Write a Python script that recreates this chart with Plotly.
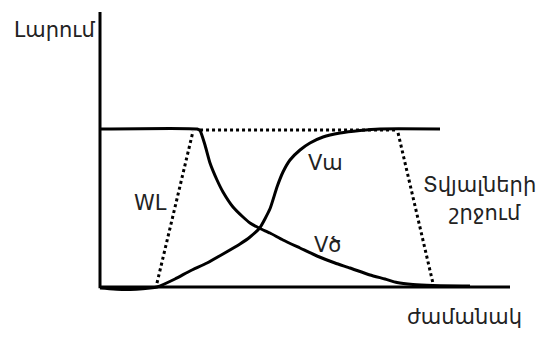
import plotly.graph_objects as go

# ---- data (time in % of axis, voltage in % of full level) ----
va_x = [0, 6.10, 12.20, 13.90, 18.29, 21.95, 26.10, 30.0, 34.15, 36.59, 39.02, 41.46, 43.17,
        44.63, 46.34, 48.78, 51.22, 54.39, 58.54, 63.41, 68.29, 82.93]
va_y = [-0.63, -1.58, -0.63, 0, 5.06, 10.13, 15.19, 20.89, 27.22, 31.65, 37.6, 49.5, 63.29,
        72.78, 80.38, 86.71, 91.14, 94.94, 97.47, 99.05, 100, 100]

vd_x = [0, 23.66, 24.39, 25.61, 26.83, 28.54, 30.0, 32.44, 34.88, 36.59, 39.02, 41.46, 44.63,
        48.78, 52.93, 57.32, 60.98, 65.85, 69.51, 72.44, 76.34, 81.22, 90.24]
vd_y = [100, 100, 99.05, 89.87, 78.48, 67.72, 60.13, 50.63, 44.30, 40.51, 37.03, 34.18, 29.75,
        24.68, 19.62, 15.19, 12.03, 7.59, 5.06, 2.85, 1.58, 0.95, 0.63]

top_dot_x = [24.4, 72.6]
top_dot_y = [99.4, 99.4]
wl_x = [13.9, 22.7]
wl_y = [2.5, 98.7]
inv_x = [72.7, 81.2]
inv_y = [97.5, 2.5]

axis_x_end = 100
axis_y_end = 174

labels = {
    "y_title": "Լարում",
    "x_title": "ժամանակ",
    "wl": "WL",
    "va": "Vա",
    "vd": "Vծ",
    "inv1": "Տվյալների",
    "inv2": "շրջում",
}

# ---- pixel mapping (page body adds an 8px offset) ----
W, H = 557, 338
OFF = 8
X0PX, XSCALE = 100 - OFF, 4.1
Y0PX, YSCALE = 287 - OFF, 1.58
xr = [(0 - X0PX) / XSCALE, (W - X0PX) / XSCALE]
yr = [(Y0PX - H) / YSCALE, (Y0PX - 0) / YSCALE]

FONT = "DejaVu Sans"
fig = go.Figure()

solid = dict(color="black", width=3, shape="spline", smoothing=0.5)
fig.add_trace(go.Scatter(x=va_x, y=va_y, mode="lines", line=solid, hoverinfo="skip"))
fig.add_trace(go.Scatter(x=vd_x, y=vd_y, mode="lines", line=solid, hoverinfo="skip"))

dot = dict(color="black", width=3, dash="dot")
for xs, ys in [(top_dot_x, top_dot_y), (wl_x, wl_y), (inv_x, inv_y)]:
    fig.add_trace(go.Scatter(x=xs, y=ys, mode="lines", line=dot, hoverinfo="skip"))

# axes lines
fig.add_trace(go.Scatter(x=[0, 0], y=[-0.8, axis_y_end], mode="lines",
                         line=dict(color="black", width=3), hoverinfo="skip"))
fig.add_trace(go.Scatter(x=[0, axis_x_end], y=[0, 0], mode="lines",
                         line=dict(color="black", width=3), hoverinfo="skip"))

def txt(x, y, s, size=21):
    fig.add_annotation(x=x, y=y, text=s, showarrow=False, xref="x", yref="y",
                       font=dict(family=FONT, size=size, color="#222"))

txt(-11.2, 162.7, labels["y_title"])
txt(89.0, -19.0, labels["x_title"])
txt(12.2, 53.2, labels["wl"])
txt(55.1, 78.5, labels["va"])
txt(55.4, 26.6, labels["vd"])
txt(92.6, 64.6, labels["inv1"])
txt(93.9, 46.8, labels["inv2"])

fig.update_layout(
    width=W, height=H, margin=dict(l=0, r=0, t=0, b=0),
    paper_bgcolor="white", plot_bgcolor="white", showlegend=False,
    xaxis=dict(range=xr, visible=False, fixedrange=True),
    yaxis=dict(range=yr, visible=False, fixedrange=True),
)
fig.write_html("out.html")
